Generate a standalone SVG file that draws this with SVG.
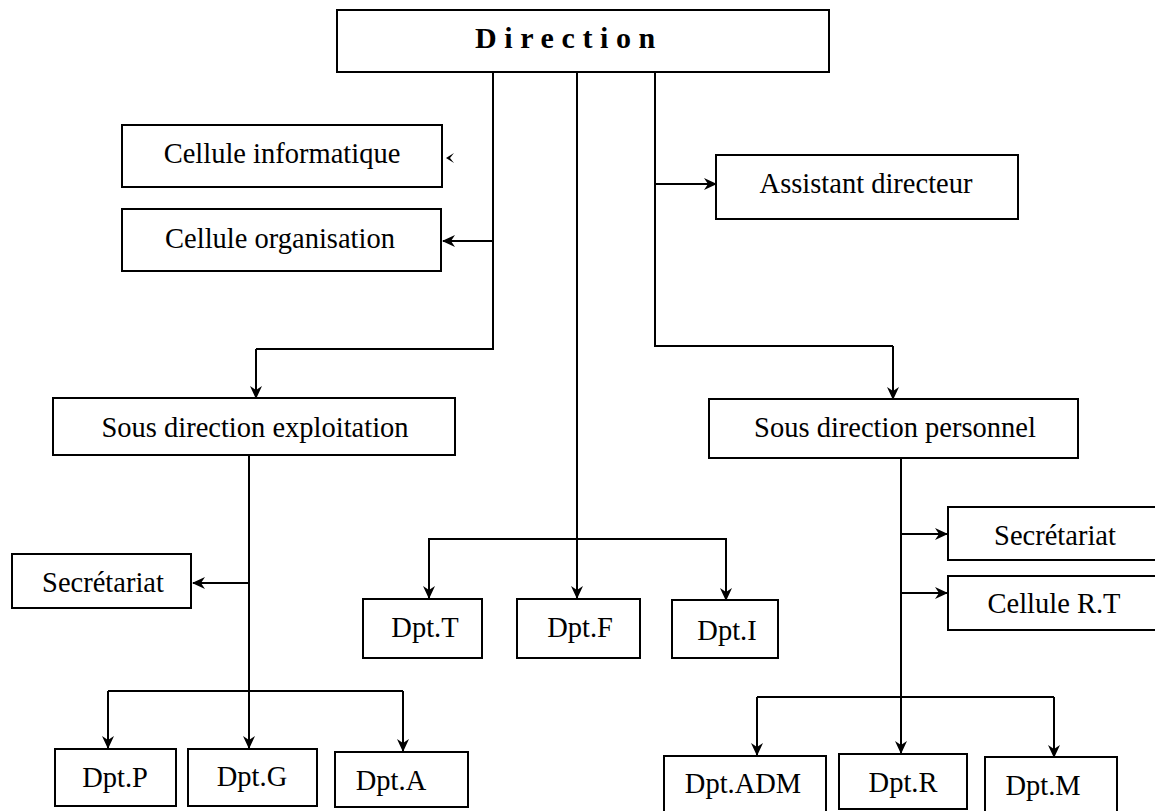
<svg xmlns="http://www.w3.org/2000/svg" width="1155" height="811" viewBox="0 0 1155 811">
<style>
.box{fill:#fff;stroke:#000;stroke-width:2}
.t{font-family:"Liberation Serif","Times New Roman",serif;font-size:28.5px;fill:#000;text-anchor:middle}
.title{font-family:"Liberation Serif","Times New Roman",serif;font-size:30px;font-weight:bold;letter-spacing:7.6px;fill:#000}
.c{fill:none;stroke:#000;stroke-width:2}
.a{marker-end:url(#arr)}
</style>
<defs>
<marker id="arr" markerUnits="userSpaceOnUse" markerWidth="14" markerHeight="14" viewBox="0 0 14 14" refX="12" refY="7" orient="auto">
<path d="M0,1 L13,7 L0,13 L4,7 z" fill="#000"/>
</marker>
</defs>
<rect width="1155" height="811" fill="#fff"/>
<g id="connectors">
<polyline class="c" points="493,72 493,349 256,349"/>
<line class="c a" x1="256" y1="349" x2="256" y2="398"/>
<line class="c a" x1="493" y1="241" x2="443" y2="241"/>
<path d="M454,153 L446,158 L454,163 L450,158 z" fill="#000"/>
<line class="c a" x1="577" y1="72" x2="577" y2="598"/>
<polyline class="c" points="655,72 655,346 893,346"/>
<line class="c a" x1="655" y1="184" x2="716" y2="184"/>
<line class="c a" x1="893" y1="346" x2="893" y2="399"/>
<polyline class="c" points="429,598 429,539 726,539 726,599"/>
<line class="c a" x1="429" y1="539" x2="429" y2="598"/>
<line class="c a" x1="726" y1="539" x2="726" y2="600"/>
<line class="c a" x1="249" y1="455" x2="249" y2="748"/>
<line class="c a" x1="249" y1="583" x2="193" y2="583"/>
<line class="c" x1="108" y1="691" x2="403" y2="691"/>
<line class="c a" x1="108" y1="691" x2="108" y2="748"/>
<line class="c a" x1="403" y1="691" x2="403" y2="751"/>
<line class="c a" x1="901" y1="458" x2="901" y2="753"/>
<line class="c a" x1="901" y1="534" x2="947" y2="534"/>
<line class="c a" x1="901" y1="593" x2="947" y2="593"/>
<line class="c" x1="757" y1="697" x2="1054" y2="697"/>
<line class="c a" x1="757" y1="697" x2="757" y2="755"/>
<line class="c a" x1="1054" y1="697" x2="1054" y2="757"/>
</g>
<g id="direction"><rect class="box" x="337" y="10" width="492" height="62"/><text class="title" x="475" y="48">Direction</text></g>
<g id="cellule-informatique"><rect class="box" x="122" y="125" width="320" height="62"/><text class="t" x="282" y="163">Cellule informatique</text></g>
<g id="cellule-organisation"><rect class="box" x="122" y="209" width="319" height="62"/><text class="t" x="280" y="248">Cellule organisation</text></g>
<g id="assistant-directeur"><rect class="box" x="716" y="155" width="302" height="64"/><text class="t" x="866" y="193">Assistant directeur</text></g>
<g id="sous-direction-exploitation"><rect class="box" x="53" y="398" width="402" height="57"/><text class="t" x="255" y="437">Sous direction exploitation</text></g>
<g id="sous-direction-personnel"><rect class="box" x="709" y="399" width="369" height="59"/><text class="t" x="895" y="437">Sous direction personnel</text></g>
<g id="secretariat-exploitation"><rect class="box" x="12" y="554" width="179" height="54"/><text class="t" x="103" y="592">Secrétariat</text></g>
<g id="dpt-t"><rect class="box" x="363" y="599" width="119" height="59"/><text class="t" x="425" y="637">Dpt.T</text></g>
<g id="dpt-f"><rect class="box" x="517" y="599" width="123" height="59"/><text class="t" x="580" y="637">Dpt.F</text></g>
<g id="dpt-i"><rect class="box" x="672" y="600" width="106" height="58"/><text class="t" x="727" y="640">Dpt.I</text></g>
<g id="secretariat-personnel"><rect class="box" x="948" y="507" width="212" height="53"/><text class="t" x="1055" y="545">Secrétariat</text></g>
<g id="cellule-rt"><rect class="box" x="948" y="576" width="212" height="54"/><text class="t" x="1054" y="613">Cellule R.T</text></g>
<g id="dpt-p"><rect class="box" x="55" y="749" width="121" height="57"/><text class="t" x="115" y="787">Dpt.P</text></g>
<g id="dpt-g"><rect class="box" x="188" y="749" width="129" height="57"/><text class="t" x="252" y="786">Dpt.G</text></g>
<g id="dpt-a"><rect class="box" x="335" y="752" width="133" height="55"/><text class="t" x="391" y="790">Dpt.A</text></g>
<g id="dpt-adm"><rect class="box" x="664" y="756" width="162" height="60"/><text class="t" x="743" y="793">Dpt.ADM</text></g>
<g id="dpt-r"><rect class="box" x="839" y="754" width="128" height="55"/><text class="t" x="903" y="792">Dpt.R</text></g>
<g id="dpt-m"><rect class="box" x="985" y="757" width="132" height="60"/><text class="t" x="1043" y="795">Dpt.M</text></g>
</svg>
